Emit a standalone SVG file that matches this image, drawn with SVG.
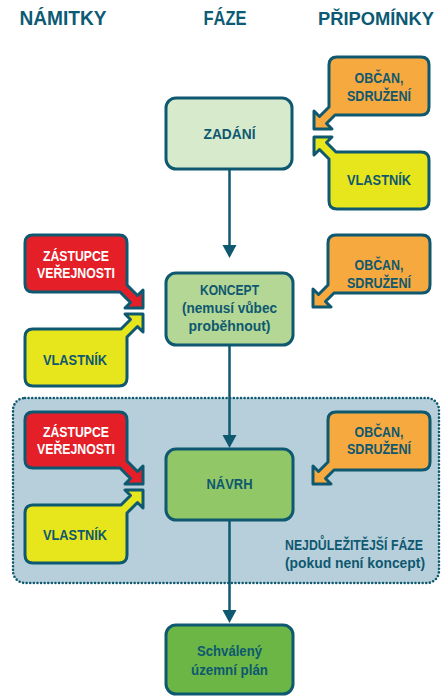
<svg xmlns="http://www.w3.org/2000/svg" width="441" height="696" viewBox="0 0 441 696">
<style>
text{font-family:"Liberation Sans",Arial,sans-serif;font-weight:bold;text-anchor:middle;fill:#0e5870}
.h{font-size:20px;fill:#0c5a74}
.t{font-size:14px}
.w{fill:#ffffff}
.box{stroke:#0e5870;stroke-width:3;stroke-linejoin:round}
.org{fill:#f6a93f}
.red{fill:#e41f27}
.yel{fill:#e7e51b}
.conn{stroke:#0e5870;stroke-width:2.5;fill:none}
.ah{fill:#0e5870}
</style>
<rect id="region" x="13" y="398" width="426" height="185" rx="12" fill="#b7cfdb" stroke="#0e5870" stroke-width="2.6" stroke-dasharray="0 3.6" stroke-linecap="round"/>
<g id="headers">
<text class="h" x="63" y="25" textLength="87" lengthAdjust="spacingAndGlyphs">NÁMITKY</text>
<text class="h" x="225" y="25" textLength="43" lengthAdjust="spacingAndGlyphs">FÁZE</text>
<text class="h" x="376" y="25" style="font-size:18.5px" textLength="116" lengthAdjust="spacingAndGlyphs">PŘIPOMÍNKY</text>
</g>
<g id="connectors">
<line class="conn" x1="229.5" y1="169" x2="229.5" y2="246"/>
<polygon class="ah" points="222.5,245 236.5,245 229.5,258"/>
<line class="conn" x1="229.5" y1="345" x2="229.5" y2="436"/>
<polygon class="ah" points="222.5,435 236.5,435 229.5,448"/>
<line class="conn" x1="229.5" y1="520" x2="229.5" y2="611"/>
<polygon class="ah" points="222.5,610 236.5,610 229.5,623"/>
</g>
<g id="zadani">
<rect class="box" x="166" y="98" width="126" height="71" rx="10" fill="#d8eacc"/>
<text class="t" x="229.5" y="139" textLength="52" lengthAdjust="spacingAndGlyphs">ZADÁNÍ</text>
</g>
<g id="obcan1">
<path class="box org" d="M337,57 H421 Q429,57 429,65 V107 Q429,115 421,115 H335 L326.5,123.5 L332,129 L314,129 L314,111 L319.5,116.5 L329,107 V65 Q329,57 337,57 Z"/>
<text class="t" x="379" y="83" textLength="49" lengthAdjust="spacingAndGlyphs">OBČAN,</text>
<text class="t" x="379" y="101" textLength="64" lengthAdjust="spacingAndGlyphs">SDRUŽENÍ</text>
</g>
<g id="vlastnik1">
<path class="box yel" d="M336,152 H421 Q429,152 429,160 V201 Q429,209 421,209 H337 Q329,209 329,201 V159 L319.5,149.5 L314,155 L314,137 L332,137 L326.5,142.5 Z"/>
<text class="t" x="379" y="185" textLength="64" lengthAdjust="spacingAndGlyphs">VLASTNÍK</text>
</g>
<g id="koncept">
<rect class="box" x="166" y="273" width="127" height="72" rx="10" fill="#b4d795"/>
<text class="t" x="229.5" y="295" textLength="59" lengthAdjust="spacingAndGlyphs">KONCEPT</text>
<text class="t" x="229.5" y="313" textLength="95" lengthAdjust="spacingAndGlyphs">(nemusí vůbec</text>
<text class="t" x="229.5" y="331" textLength="82" lengthAdjust="spacingAndGlyphs">proběhnout)</text>
</g>
<g id="zastupce2">
<path class="box red" d="M33,235 H119 Q127,235 127,243 V285 L137.5,295.5 L143,290 L143,308 L125,308 L130.5,302.5 L120,292 H33 Q25,292 25,284 V243 Q25,235 33,235 Z"/>
<text class="t w" x="76" y="261" textLength="66" lengthAdjust="spacingAndGlyphs">ZÁSTUPCE</text>
<text class="t w" x="76" y="278" textLength="78" lengthAdjust="spacingAndGlyphs">VEŘEJNOSTI</text>
</g>
<g id="vlastnik2">
<path class="box yel" d="M33,329 H121 L130.5,319.5 L125,314 L143,314 L143,332 L137.5,326.5 L127,337 V378 Q127,386 119,386 H33 Q25,386 25,378 V337 Q25,329 33,329 Z"/>
<text class="t" x="75" y="365" textLength="64" lengthAdjust="spacingAndGlyphs">VLASTNÍK</text>
</g>
<g id="obcan2">
<path class="box org" d="M336,235 H422 Q430,235 430,243 V285 Q430,293 422,293 H334 L325.5,301.5 L331,307 L313,307 L313,289 L318.5,294.5 L328,285 V243 Q328,235 336,235 Z"/>
<text class="t" x="379" y="270" textLength="49" lengthAdjust="spacingAndGlyphs">OBČAN,</text>
<text class="t" x="379" y="288" textLength="64" lengthAdjust="spacingAndGlyphs">SDRUŽENÍ</text>
</g>
<g id="navrh">
<rect class="box" x="166" y="449" width="127" height="71" rx="10" fill="#91c766"/>
<text class="t" x="229.5" y="489" textLength="46" lengthAdjust="spacingAndGlyphs">NÁVRH</text>
</g>
<g id="zastupce3">
<path class="box red" d="M33,412 H119 Q127,412 127,420 V461 L137.5,471.5 L143,466 L143,484 L125,484 L130.5,478.5 L120,468 H33 Q25,468 25,460 V420 Q25,412 33,412 Z"/>
<text class="t w" x="76" y="437" textLength="66" lengthAdjust="spacingAndGlyphs">ZÁSTUPCE</text>
<text class="t w" x="76" y="454" textLength="78" lengthAdjust="spacingAndGlyphs">VEŘEJNOSTI</text>
</g>
<g id="vlastnik3">
<path class="box yel" d="M33,505 H121 L130.5,495.5 L125,490 L143,490 L143,508 L137.5,502.5 L127,513 V555 Q127,563 119,563 H33 Q25,563 25,555 V513 Q25,505 33,505 Z"/>
<text class="t" x="75" y="540" textLength="64" lengthAdjust="spacingAndGlyphs">VLASTNÍK</text>
</g>
<g id="obcan3">
<path class="box org" d="M336,412 H422 Q430,412 430,420 V462 Q430,470 422,470 H334 L325.5,478.5 L331,484 L313,484 L313,466 L318.5,471.5 L328,462 V420 Q328,412 336,412 Z"/>
<text class="t" x="379" y="437" textLength="49" lengthAdjust="spacingAndGlyphs">OBČAN,</text>
<text class="t" x="379" y="454" textLength="64" lengthAdjust="spacingAndGlyphs">SDRUŽENÍ</text>
</g>
<g id="note">
<text class="t" x="354" y="550" textLength="138" lengthAdjust="spacingAndGlyphs">NEJDŮLEŽITĚJŠÍ FÁZE</text>
<text class="t" x="355" y="568" textLength="140" lengthAdjust="spacingAndGlyphs">(pokud není koncept)</text>
</g>
<g id="plan">
<rect class="box" x="166" y="625" width="127" height="69" rx="10" fill="#6bb644"/>
<text class="t" x="229.5" y="656" textLength="65" lengthAdjust="spacingAndGlyphs">Schválený</text>
<text class="t" x="229.5" y="675" textLength="77" lengthAdjust="spacingAndGlyphs">územní plán</text>
</g>
</svg>
